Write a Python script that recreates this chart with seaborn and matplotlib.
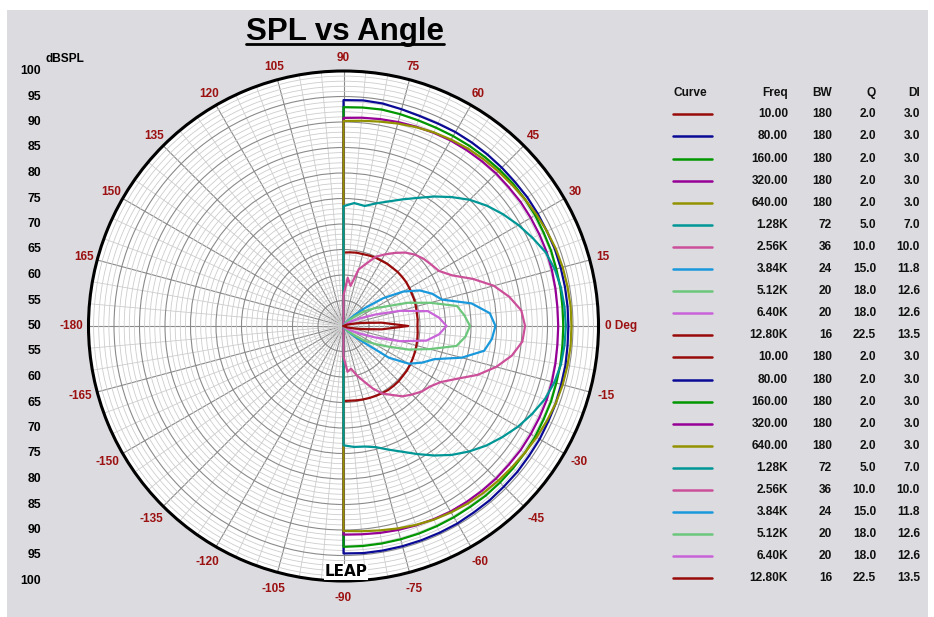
import numpy as np
import pandas as pd
import matplotlib
matplotlib.use('Agg')
import matplotlib.pyplot as plt
from matplotlib.lines import Line2D
from matplotlib.patches import Rectangle
from matplotlib.ticker import MultipleLocator, FixedLocator
import seaborn as sns

sns.set_style('white')
plt.rcParams['font.family'] = ['Liberation Sans', 'DejaVu Sans']
plt.rcParams['text.color'] = 'black'

# measurement angles (deg), top (90) round the right side to bottom (-90)
ANGLES = [90, 85, 80, 75, 70, 65, 60, 55, 50, 45, 40, 35, 30, 25, 20, 15, 10, 5, 0,
          -5, -10, -15, -20, -25, -30, -35, -40, -45, -50, -55, -60, -65, -70, -75, -80, -85, -90]

SPL_10 = [64.4, 64.5, 64.6, 64.6, 64.7, 64.8, 64.8, 64.9, 64.9, 65.0, 65.0, 65.0, 64.9, 64.8, 64.8, 64.7, 64.6, 64.6, 64.5,
          64.6, 64.7, 64.8, 64.9, 65.0, 65.1, 65.2, 65.2, 65.3, 65.3, 65.3, 65.2, 65.1, 65.0, 64.9, 64.8, 64.7, 64.7]
SPL_80 = [94.3, 94.4, 94.3, 94.0, 93.8, 93.8, 93.9, 93.9, 93.9, 93.9, 93.9, 94.0, 94.0, 94.0, 94.1, 94.1, 94.1, 94.1, 94.1,
          94.1, 94.2, 94.2, 94.3, 94.3, 94.4, 94.4, 94.5, 94.5, 94.6, 94.6, 94.7, 94.7, 94.7, 94.7, 94.7, 94.7, 94.6]
SPL_160 = [92.9, 93.0, 93.1, 93.0, 92.9, 92.9, 93.0, 93.1, 93.2, 93.3, 93.4, 93.4, 93.4, 93.3, 93.3, 93.2, 93.2, 93.1, 93.1,
           93.1, 93.2, 93.2, 93.3, 93.3, 93.4, 93.4, 93.4, 93.4, 93.4, 93.3, 93.3, 93.3, 93.3, 93.3, 93.3, 93.3, 93.3]
SPL_320 = [90.8, 91.0, 91.2, 91.4, 91.6, 91.8, 92.0, 92.1, 92.2, 92.3, 92.3, 92.4, 92.4, 92.4, 92.4, 92.3, 92.2, 92.1, 92.1,
           92.1, 92.2, 92.3, 92.4, 92.4, 92.4, 92.4, 92.3, 92.3, 92.2, 92.1, 92.0, 91.8, 91.6, 91.4, 91.2, 91.0, 90.9]
SPL_640 = [90.2, 90.4, 90.7, 91.1, 91.5, 91.9, 92.2, 92.5, 92.7, 92.9, 93.1, 93.4, 93.7, 94.0, 94.3, 94.5, 94.6, 94.7, 94.7,
           94.7, 94.6, 94.5, 94.3, 94.0, 93.7, 93.4, 93.1, 92.9, 92.7, 92.5, 92.2, 91.9, 91.5, 91.1, 90.7, 90.4, 90.2]
SPL_1K28 = [73.5, 74.2, 73.9, 74.9, 76.0, 77.4, 79.0, 81.0, 83.0, 85.0, 86.7, 88.2, 89.6, 90.9, 92.2, 92.9, 93.3, 93.5, 93.6,
            93.5, 93.3, 92.8, 92.0, 90.8, 89.5, 88.0, 86.5, 84.8, 83.0, 81.0, 79.0, 77.2, 75.8, 74.6, 74.0, 73.8, 73.4]
SPL_2K56 = [56.0, 59.5, 58.0, 61.5, 63.0, 65.0, 66.2, 67.5, 68.8, 69.8, 70.5, 71.0, 71.6, 73.5, 77.0, 80.5, 83.0, 85.0, 85.6,
            85.2, 83.5, 81.0, 78.0, 74.5, 72.0, 70.7, 70.0, 69.0, 68.0, 66.5, 65.3, 63.5, 61.5, 60.0, 58.5, 59.0, 56.0]
SPL_3K84 = [50.0, 50.0, 50.0, 50.0, 50.0, 50.0, 50.3, 50.8, 51.5, 53.0, 55.5, 59.5, 63.5, 66.5, 68.5, 70.0, 75.5, 78.8, 79.8,
            79.2, 78.0, 74.0, 69.0, 67.0, 64.8, 60.8, 54.5, 52.5, 51.3, 50.7, 50.3, 50.0, 50.0, 50.0, 50.0, 50.0, 50.0]
SPL_5K12 = [50.0, 50.0, 50.0, 50.0, 50.0, 50.0, 50.0, 50.5, 51.0, 51.8, 53.0, 55.0, 57.0, 59.0, 63.3, 67.6, 72.6, 73.8, 74.8,
            74.0, 72.5, 67.5, 63.5, 59.5, 57.0, 55.0, 53.0, 51.8, 51.0, 50.5, 50.0, 50.0, 50.0, 50.0, 50.0, 50.0, 50.0]
SPL_6K40 = [50.0, 50.0, 50.0, 50.0, 50.0, 50.0, 50.0, 50.0, 50.0, 50.0, 50.5, 51.0, 52.0, 53.5, 56.5, 61.5, 66.8, 68.8, 70.2,
            68.8, 66.5, 61.5, 56.5, 53.5, 52.0, 51.0, 50.5, 50.0, 50.0, 50.0, 50.0, 50.0, 50.0, 50.0, 50.0, 50.0, 50.0]
SPL_12K8 = [50.0, 50.0, 50.0, 50.0, 50.0, 50.0, 50.0, 50.0, 50.0, 50.0, 50.0, 50.0, 50.0, 50.3, 50.8, 51.5, 53.5, 57.5, 62.7,
            57.5, 53.5, 51.5, 50.8, 50.3, 50.0, 50.0, 50.0, 50.0, 50.0, 50.0, 50.0, 50.0, 50.0, 50.0, 50.0, 50.0, 50.0]

FREQ = ['10.00', '80.00', '160.00', '320.00', '640.00', '1.28K', '2.56K', '3.84K', '5.12K', '6.40K', '12.80K']
BW = [180, 180, 180, 180, 180, 72, 36, 24, 20, 20, 16]
Q = [2.0, 2.0, 2.0, 2.0, 2.0, 5.0, 10.0, 15.0, 18.0, 18.0, 22.5]
DI = [3.0, 3.0, 3.0, 3.0, 3.0, 7.0, 10.0, 11.8, 12.6, 12.6, 13.5]
COLORS = ['#990a0a', '#0a0a96', '#009600', '#960096', '#929200', '#009696',
          '#cc4f99', '#1a98dc', '#6cc67c', '#c863d8', '#990a0a']

SERIES = [SPL_10, SPL_80, SPL_160, SPL_320, SPL_640, SPL_1K28,
          SPL_2K56, SPL_3K84, SPL_5K12, SPL_6K40, SPL_12K8]

ANGLE_LABELS = [(0, '0 Deg'), (15, '15'), (30, '30'), (45, '45'), (60, '60'), (75, '75'),
                (90, '90'), (105, '105'), (120, '120'), (135, '135'), (150, '150'), (165, '165'),
                (180, '-180'), (195, '-165'), (210, '-150'), (225, '-135'), (240, '-120'),
                (255, '-105'), (270, '-90'), (285, '-75'), (300, '-60'), (315, '-45'),
                (330, '-30'), (345, '-15')]

W, H = 934, 617
def fx(x):
    return x / W
def fy(y):
    return 1 - y / H

fig = plt.figure(figsize=(9.34, 6.17), dpi=100, facecolor='white')
fig.patches.append(Rectangle((fx(7), 0), fx(928) - fx(7), fy(10), transform=fig.transFigure,
                             facecolor='#dcdbdf', edgecolor='none', zorder=-10))

cx, cy, R = 343.5, 326.0, 255.0
rect = [fx(cx - R), fy(cy + R), 2 * R / W, 2 * R / H]
ax = fig.add_axes(rect, projection='polar')
ax.set_facecolor('white')
ax.set_theta_zero_location('E')
ax.set_axisbelow(True)

for vals, col in zip(SERIES, COLORS):
    df = pd.DataFrame({'theta': np.deg2rad([90] + ANGLES + [-90]),
                       'spl': [50.0] + vals + [50.0]})
    sns.lineplot(data=df, x='theta', y='spl', ax=ax, color=col, sort=False,
                 estimator=None, linewidth=1.6)

ax.set_ylim(50, 100)
ax.set_xlabel('')
ax.set_ylabel('')
ax.set_xticks(np.deg2rad(np.arange(0, 360, 15)))
ax.xaxis.set_minor_locator(FixedLocator(np.deg2rad(np.arange(0, 360, 5))))
ax.set_yticks(np.arange(55, 101, 5))
ax.yaxis.set_minor_locator(MultipleLocator(1))
ax.set_xticklabels([])
ax.set_yticklabels([])
ax.tick_params(which='both', length=0)
ax.grid(which='major', color='#8a8a8a', linewidth=0.8)
ax.grid(which='minor', color='#cdcdcd', linewidth=0.6)
ax.spines['polar'].set_linewidth(2.2)
ax.spines['polar'].set_color('black')

lab_kw = dict(color='#9b1010', fontsize=8.5, fontweight='bold', va='center', clip_on=False)
for ang, txt in ANGLE_LABELS:
    if ang == 0:
        ax.text(0, 101.2, txt, ha='left', **lab_kw)
    else:
        rr = 102.6 if ang < 180 else 103.4
        ax.text(np.deg2rad(ang), rr, txt, ha='center', **lab_kw)

# left dB scale
cax = fig.add_axes(rect, facecolor='none')
cax.set_xlim(-50, 50)
cax.set_ylim(-50, 50)
cax.axis('off')
xlab = (41 - cx) / (R / 50)
for v in range(100, 49, -5):
    cax.text(xlab, v - 50, str(v), ha='right', va='center', fontsize=8.8, fontweight='bold',
             color='black', clip_on=False)
for v in range(55, 101, 5):
    cax.text(xlab, -(v - 50), str(v), ha='right', va='center', fontsize=8.8, fontweight='bold',
             color='black', clip_on=False)
fig.text(fx(46), fy(59), 'dBSPL', ha='left', va='center', fontsize=8.6, fontweight='bold', color='black')

# logo
fig.text(fx(346), fy(572), 'LEAP', ha='center', va='center', fontsize=11, fontweight='heavy',
         family='DejaVu Sans', color='black', bbox=dict(facecolor='white', edgecolor='none', pad=0.5))

# title with underline
t = fig.text(fx(345), fy(40), 'SPL vs Angle', ha='center', va='baseline', fontsize=22.5,
             fontweight='bold', color='black')
fig.canvas.draw()
bb = t.get_window_extent()
fig.add_artist(Line2D([bb.x0 / W, bb.x1 / W], [fy(43.5), fy(43.5)], transform=fig.transFigure,
                      color='black', linewidth=2.0))

# curve table
head = [('Curve', 673, 'left'), ('Freq', 788, 'right'), ('BW', 832, 'right'),
        ('Q', 876, 'right'), ('DI', 920, 'right')]
tk = dict(fontsize=8.6, fontweight='bold', va='center', color='#111111')
for txt, x, ha in head:
    fig.text(fx(x), fy(93), txt, ha=ha, **tk)
row = 0
for rep in range(2):
    for i in range(len(FREQ)):
        y = 114.3 + 22.1 * row
        fig.add_artist(Line2D([fx(673), fx(712)], [fy(y), fy(y)], transform=fig.transFigure,
                              color=COLORS[i], linewidth=1.8))
        fig.text(fx(788), fy(y), FREQ[i], ha='right', **tk)
        fig.text(fx(832), fy(y), str(BW[i]), ha='right', **tk)
        fig.text(fx(876), fy(y), f'{Q[i]:.1f}', ha='right', **tk)
        fig.text(fx(920), fy(y), f'{DI[i]:.1f}', ha='right', **tk)
        row += 1

fig.savefig('out.png', dpi=100, facecolor=fig.get_facecolor())
